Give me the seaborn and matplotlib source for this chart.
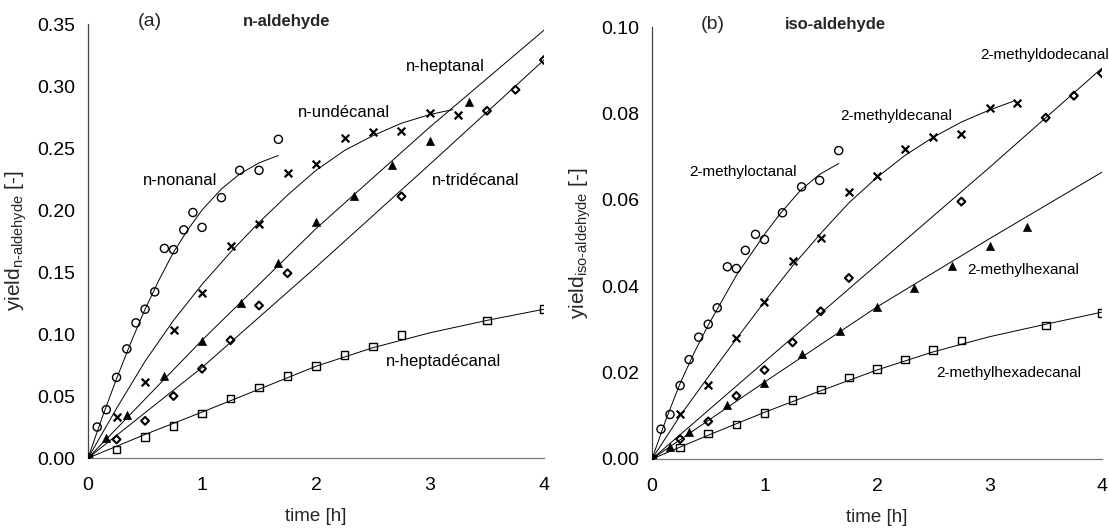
import matplotlib
matplotlib.use("Agg")
import matplotlib.pyplot as plt
import seaborn as sns
import pandas as pd

# ---------------- panel (a): n-aldehyde ----------------
t_nonanal = [0, 0.08, 0.16, 0.25, 0.34, 0.42, 0.50, 0.585, 0.67, 0.75, 0.84, 0.92, 1.0, 1.17, 1.33, 1.50, 1.67]
y_nonanal = [0, 0.025, 0.039, 0.065, 0.088, 0.109, 0.120, 0.134, 0.169, 0.168, 0.184, 0.198, 0.186, 0.210, 0.232, 0.232, 0.257]
t_undecanal = [0, 0.25, 0.5, 0.75, 1.0, 1.25, 1.5, 1.75, 2.0, 2.25, 2.5, 2.75, 3.0, 3.25]
y_undecanal = [0, 0.033, 0.061, 0.103, 0.133, 0.171, 0.189, 0.230, 0.237, 0.258, 0.263, 0.264, 0.278, 0.277]
t_heptanal = [0, 0.16, 0.34, 0.67, 1.0, 1.34, 1.67, 2.0, 2.33, 2.67, 3.0, 3.34]
y_heptanal = [0, 0.016, 0.035, 0.066, 0.094, 0.125, 0.157, 0.190, 0.211, 0.236, 0.256, 0.287]
t_tridecanal = [0, 0.25, 0.5, 0.75, 1.0, 1.25, 1.5, 1.75, 2.75, 3.5, 3.75, 4.0]
y_tridecanal = [0, 0.015, 0.030, 0.050, 0.072, 0.095, 0.123, 0.149, 0.211, 0.280, 0.297, 0.321]
t_heptadecanal = [0, 0.25, 0.5, 0.75, 1.0, 1.25, 1.5, 1.75, 2.0, 2.25, 2.5, 2.75, 3.5, 4.0]
y_heptadecanal = [0, 0.007, 0.017, 0.026, 0.036, 0.048, 0.057, 0.066, 0.074, 0.083, 0.090, 0.099, 0.111, 0.120]

fit_t_nonanal = [0, 0.125, 0.25, 0.375, 0.5, 0.625, 0.75, 0.875, 1.0, 1.17, 1.33, 1.5, 1.67]
fit_y_nonanal = [0, 0.033, 0.064, 0.093, 0.120, 0.144, 0.166, 0.184, 0.200, 0.217, 0.229, 0.238, 0.244]
fit_t_undecanal = [0, 0.25, 0.5, 0.75, 1.0, 1.25, 1.5, 1.75, 2.0, 2.25, 2.5, 2.75, 3.0, 3.2]
fit_y_undecanal = [0, 0.040, 0.078, 0.111, 0.140, 0.166, 0.190, 0.212, 0.232, 0.248, 0.260, 0.270, 0.277, 0.281]
fit_t_heptanal = [0, 1, 2, 3, 4]
fit_y_heptanal = [0, 0.095, 0.185, 0.267, 0.345]
fit_t_tridecanal = [0, 1, 2, 3, 4]
fit_y_tridecanal = [0, 0.073, 0.154, 0.237, 0.321]
fit_t_heptadecanal = [0, 0.5, 1, 1.5, 2, 2.5, 3, 3.5, 4]
fit_y_heptadecanal = [0, 0.019, 0.037, 0.0555, 0.074, 0.089, 0.101, 0.111, 0.120]

# ---------------- panel (b): iso-aldehyde ----------------
t_moct = [0, 0.08, 0.16, 0.25, 0.33, 0.415, 0.50, 0.58, 0.67, 0.75, 0.83, 0.92, 1.0, 1.16, 1.33, 1.49, 1.66]
y_moct = [0, 0.0069, 0.0103, 0.017, 0.023, 0.0282, 0.0312, 0.035, 0.0445, 0.0441, 0.0483, 0.052, 0.0508, 0.057, 0.063, 0.0645, 0.0714]
t_mdec = [0, 0.25, 0.5, 0.75, 1.0, 1.25, 1.5, 1.75, 2.0, 2.25, 2.5, 2.75, 3.0, 3.24]
y_mdec = [0, 0.0104, 0.0171, 0.028, 0.0363, 0.0459, 0.0511, 0.0617, 0.0655, 0.0718, 0.0745, 0.0753, 0.0812, 0.0825]
t_mdodec = [0, 0.25, 0.5, 0.75, 1.0, 1.25, 1.5, 1.75, 2.75, 3.5, 3.75, 4.0]
y_mdodec = [0, 0.0046, 0.0087, 0.0146, 0.0206, 0.027, 0.0342, 0.0419, 0.0596, 0.079, 0.0841, 0.0893]
t_mhex = [0, 0.16, 0.33, 0.67, 1.0, 1.33, 1.67, 2.0, 2.33, 2.67, 3.0, 3.33]
y_mhex = [0, 0.0028, 0.0063, 0.0126, 0.0175, 0.0244, 0.0296, 0.0351, 0.0396, 0.0446, 0.0492, 0.0537]
t_mhexdec = [0, 0.25, 0.5, 0.75, 1.0, 1.25, 1.5, 1.75, 2.0, 2.25, 2.5, 2.75, 3.5, 4.0]
y_mhexdec = [0, 0.0027, 0.0059, 0.008, 0.0107, 0.0136, 0.0161, 0.0189, 0.0209, 0.0230, 0.0252, 0.0274, 0.0309, 0.0338]

fit_t_moct = [0, 0.125, 0.25, 0.375, 0.5, 0.75, 1.0, 1.14, 1.32, 1.49, 1.66]
fit_y_moct = [0, 0.0092, 0.0175, 0.0246, 0.031, 0.0425, 0.0520, 0.0568, 0.0622, 0.0659, 0.0684]
fit_t_mdec = [0, 0.25, 0.5, 0.75, 1.0, 1.25, 1.52, 1.75, 2.0, 2.25, 2.5, 2.75, 3.0, 3.21]
fit_y_mdec = [0, 0.0100, 0.0190, 0.0278, 0.0364, 0.0447, 0.0528, 0.0593, 0.0652, 0.0703, 0.0745, 0.0780, 0.0808, 0.0828]
fit_t_mdodec = [0, 1, 2, 3, 4]
fit_y_mdodec = [0, 0.0225, 0.045, 0.0675, 0.0905]
fit_t_mhex = [0, 1, 2, 3, 4]
fit_y_mhex = [0, 0.0178, 0.0352, 0.051, 0.0664]
fit_t_mhexdec = [0, 0.5, 1, 1.5, 2, 2.5, 3, 3.5, 4]
fit_y_mhexdec = [0, 0.0055, 0.0108, 0.0158, 0.0206, 0.0248, 0.0283, 0.0312, 0.0340]

x_ticks = [0, 1, 2, 3, 4]
y_ticks_a = [0.00, 0.05, 0.10, 0.15, 0.20, 0.25, 0.30, 0.35]
y_ticks_b = [0.00, 0.02, 0.04, 0.06, 0.08, 0.10]

sns.set_style("white")
plt.rcParams["font.family"] = ["Liberation Sans", "DejaVu Sans"]
plt.rcParams["mathtext.fontset"] = "custom"
plt.rcParams["mathtext.rm"] = "Liberation Sans"

fig = plt.figure(figsize=(11.09, 5.30), dpi=100)
ax_a = fig.add_axes([0.0794, 0.1358, 0.4111, 0.8189])
ax_b = fig.add_axes([0.5879, 0.1340, 0.4058, 0.8150])

MK = {
    "circle": dict(marker="o", s=34, facecolor="none", edgecolor="black", linewidth=1.0),
    "x": dict(marker="x", s=30, color="black", linewidth=1.6),
    "tri": dict(marker="^", s=34, color="black", edgecolor="black", linewidth=0.5),
    "dia": dict(marker="D", s=16, facecolor="none", edgecolor="black", linewidth=1.5),
    "sq": dict(marker="s", s=30, facecolor="none", edgecolor="black", linewidth=1.0),
}


def draw(ax, series, fits):
    for (tf, yf) in fits:
        df = pd.DataFrame({"t": tf, "y": yf})
        sns.lineplot(data=df, x="t", y="y", ax=ax, color="black", linewidth=0.7,
                     sort=False, estimator=None)
    for (tt, yy, style) in series:
        df = pd.DataFrame({"t": tt, "y": yy})
        sns.scatterplot(data=df, x="t", y="y", ax=ax, zorder=3, **MK[style])


draw(ax_a,
     [(t_nonanal, y_nonanal, "circle"), (t_undecanal, y_undecanal, "x"),
      (t_heptanal, y_heptanal, "tri"), (t_tridecanal, y_tridecanal, "dia"),
      (t_heptadecanal, y_heptadecanal, "sq")],
     [(fit_t_nonanal, fit_y_nonanal), (fit_t_undecanal, fit_y_undecanal),
      (fit_t_heptanal, fit_y_heptanal), (fit_t_tridecanal, fit_y_tridecanal),
      (fit_t_heptadecanal, fit_y_heptadecanal)])

draw(ax_b,
     [(t_moct, y_moct, "circle"), (t_mdec, y_mdec, "x"),
      (t_mhex, y_mhex, "tri"), (t_mdodec, y_mdodec, "dia"),
      (t_mhexdec, y_mhexdec, "sq")],
     [(fit_t_moct, fit_y_moct), (fit_t_mdec, fit_y_mdec),
      (fit_t_mdodec, fit_y_mdodec), (fit_t_mhex, fit_y_mhex),
      (fit_t_mhexdec, fit_y_mhexdec)])

for ax, yt, ymax in [(ax_a, y_ticks_a, 0.35), (ax_b, y_ticks_b, 0.10)]:
    ax.set_xlim(0, 4)
    ax.set_ylim(0, ymax)
    ax.set_xticks(x_ticks)
    ax.set_xticklabels([str(v) for v in x_ticks])
    ax.set_yticks(yt)
    ax.set_yticklabels([f"{v:.2f}" for v in yt])
    for s in ["top", "right"]:
        ax.spines[s].set_visible(False)
    ax.spines["left"].set_color("#444444")
    ax.spines["bottom"].set_color("#777777")
    ax.spines["left"].set_linewidth(0.9)
    ax.spines["bottom"].set_linewidth(0.9)
    ax.tick_params(axis="both", direction="inout", length=8, width=0.8,
                   colors="#444444", labelcolor="black", labelsize=14, pad=5)
    ax.tick_params(axis="x", pad=10)
    ax.set_xlabel("time [h]", fontsize=13.5, labelpad=10)
    ax.grid(False)
    ax.set_facecolor("white")

ax_a.set_ylabel(r"yield$_{\text{n-aldehyde}}$ [-]", fontsize=15, labelpad=6)
ax_b.set_ylabel(r"yield$_{\text{iso-aldehyde}}$ [-]", fontsize=15, labelpad=6)

TXT_A = dict(fontsize=12, color="black", ha="left", va="center")
TXT_B = dict(fontsize=11, color="black", ha="left", va="center")
ax_a.text(0.44, 0.352, "(a)", fontsize=14, ha="left", va="center", clip_on=False)
ax_a.text(1.36, 0.352, "n-aldehyde", fontsize=12, fontweight="bold", ha="left", va="center", clip_on=False)
ax_a.text(0.48, 0.224, "n-nonanal", **TXT_A)
ax_a.text(1.84, 0.2785, "n-undécanal", **TXT_A)
ax_a.text(2.79, 0.316, "n-heptanal", **TXT_A)
ax_a.text(3.02, 0.224, "n-tridécanal", **TXT_A)
ax_a.text(2.61, 0.078, "n-heptadécanal", **TXT_A)

ax_b.text(0.43, 0.1005, "(b)", fontsize=14, ha="left", va="center", clip_on=False)
ax_b.text(1.18, 0.1005, "iso-aldehyde", fontsize=12, fontweight="bold", ha="left", va="center", clip_on=False)
ax_b.text(0.33, 0.0664, "2-methyloctanal", **TXT_B)
ax_b.text(1.67, 0.0795, "2-methyldecanal", **TXT_B)
ax_b.text(2.92, 0.0936, "2-methyldodecanal", **TXT_B)
ax_b.text(2.80, 0.0437, "2-methylhexanal", **TXT_B)
ax_b.text(2.53, 0.0200, "2-methylhexadecanal", **TXT_B)

fig.savefig("out.png", dpi=100, facecolor="white")
